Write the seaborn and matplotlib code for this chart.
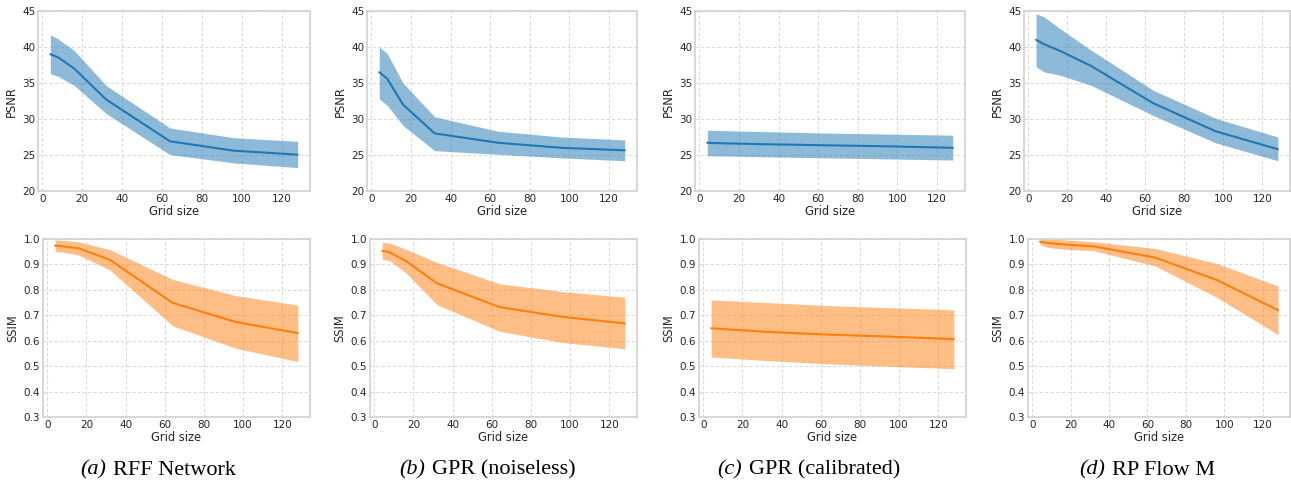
import numpy as np
import pandas as pd
import matplotlib
matplotlib.use("Agg")
import matplotlib.pyplot as plt
from matplotlib.offsetbox import TextArea, HPacker, AnnotationBbox
import seaborn as sns

# Grid sizes evaluated
grid_sizes = [4, 8, 16, 32, 64, 96, 128]

# PSNR: mean, upper and lower band per method
psnr_rff_mean = [39.0, 38.55, 37.0, 32.7, 26.9, 25.6, 25.05]
psnr_rff_hi = [41.7, 41.1, 39.5, 34.65, 28.75, 27.4, 26.9]
psnr_rff_lo = [36.3, 35.9, 34.65, 30.75, 25.05, 23.9, 23.25]

psnr_gpr_nl_mean = [36.5, 35.6, 32.0, 28.0, 26.7, 26.0, 25.65]
psnr_gpr_nl_hi = [40.0, 39.1, 35.0, 30.3, 28.3, 27.5, 27.1]
psnr_gpr_nl_lo = [32.8, 31.9, 29.1, 25.6, 25.1, 24.6, 24.2]

psnr_gpr_cal_mean = [26.7, 26.65, 26.6, 26.5, 26.35, 26.2, 26.0]
psnr_gpr_cal_hi = [28.45, 28.4, 28.35, 28.25, 28.05, 27.9, 27.75]
psnr_gpr_cal_lo = [24.9, 24.88, 24.85, 24.75, 24.6, 24.45, 24.3]

psnr_rpf_mean = [41.0, 40.4, 39.5, 37.4, 32.2, 28.3, 25.8]
psnr_rpf_hi = [44.6, 44.2, 42.6, 39.6, 34.0, 30.1, 27.5]
psnr_rpf_lo = [37.25, 36.55, 36.1, 34.7, 30.5, 26.7, 24.2]

# SSIM: mean, upper and lower band per method
ssim_rff_mean = [0.974, 0.971, 0.963, 0.918, 0.749, 0.674, 0.630]
ssim_rff_hi = [0.996, 0.994, 0.989, 0.958, 0.841, 0.778, 0.740]
ssim_rff_lo = [0.951, 0.948, 0.937, 0.878, 0.659, 0.571, 0.518]

ssim_gpr_nl_mean = [0.954, 0.947, 0.914, 0.826, 0.732, 0.694, 0.668]
ssim_gpr_nl_hi = [0.987, 0.984, 0.960, 0.908, 0.824, 0.793, 0.771]
ssim_gpr_nl_lo = [0.921, 0.914, 0.868, 0.742, 0.637, 0.593, 0.568]

ssim_gpr_cal_mean = [0.649, 0.647, 0.643, 0.635, 0.624, 0.616, 0.606]
ssim_gpr_cal_hi = [0.760, 0.759, 0.756, 0.750, 0.738, 0.730, 0.721]
ssim_gpr_cal_lo = [0.536, 0.534, 0.530, 0.522, 0.509, 0.499, 0.490]

ssim_rpf_mean = [0.989, 0.984, 0.979, 0.971, 0.927, 0.839, 0.720]
ssim_rpf_hi = [1.000, 0.999, 0.997, 0.989, 0.963, 0.904, 0.815]
ssim_rpf_lo = [0.979, 0.967, 0.960, 0.954, 0.894, 0.771, 0.624]

caption_tags = ["(a)", "(b)", "(c)", "(d)"]
caption_names = ["RFF Network", "GPR (noiseless)", "GPR (calibrated)", "RP Flow M"]

psnr_sets = [
    (psnr_rff_mean, psnr_rff_lo, psnr_rff_hi),
    (psnr_gpr_nl_mean, psnr_gpr_nl_lo, psnr_gpr_nl_hi),
    (psnr_gpr_cal_mean, psnr_gpr_cal_lo, psnr_gpr_cal_hi),
    (psnr_rpf_mean, psnr_rpf_lo, psnr_rpf_hi),
]
ssim_sets = [
    (ssim_rff_mean, ssim_rff_lo, ssim_rff_hi),
    (ssim_gpr_nl_mean, ssim_gpr_nl_lo, ssim_gpr_nl_hi),
    (ssim_gpr_cal_mean, ssim_gpr_cal_lo, ssim_gpr_cal_hi),
    (ssim_rpf_mean, ssim_rpf_lo, ssim_rpf_hi),
]

sns.set_style("whitegrid", {"grid.linestyle": "--", "grid.color": "0.86",
                            "axes.edgecolor": "0.82", "text.color": "0.15",
                            "xtick.color": "0.15", "ytick.color": "0.15"})
plt.rcParams["font.family"] = ["DejaVu Sans"]
plt.rcParams["lines.dashed_pattern"] = [3.0, 2.0]

W, H = 1291, 486
fig = plt.figure(figsize=(W / 100, H / 100), dpi=100)

top_cols = [(38, 310), (367, 637), (695, 965), (1024, 1290)]
bot_cols = [(43, 310), (370, 637), (699, 966), (1028, 1290)]
top_rows = (11, 191)
bot_rows = (239, 417)
cap_x = [158, 487, 809, 1147]

blue = "#1f77b4"
orange = "#ff7f0e"


def make_ax(cols, rows):
    l, r = cols
    t, b = rows
    return fig.add_axes([l / W, 1 - b / H, (r - l) / W, (b - t) / H])


def draw(ax, data, color, ylabel, ylim, yticks, fmt):
    mean, lo, hi = data
    df = pd.DataFrame({"Grid size": grid_sizes, ylabel: mean})
    ax.fill_between(grid_sizes, lo, hi, color=color, alpha=0.5, linewidth=0)
    sns.lineplot(data=df, x="Grid size", y=ylabel, ax=ax, color=color, linewidth=1.5)
    ax.set_ylim(*ylim)
    ax.set_yticks(yticks)
    ax.set_yticklabels([fmt.format(v) for v in yticks])
    ax.set_xticks([0, 20, 40, 60, 80, 100, 120])
    ax.tick_params(labelsize=7.5, pad=2, length=0)
    ax.set_xlabel("Grid size", fontsize=8.3, labelpad=1)
    ax.set_ylabel(ylabel, fontsize=8.3, labelpad=3)
    for s in ax.spines.values():
        s.set_linewidth(1.2)
    ax.grid(True, linewidth=0.8)


for i in range(4):
    ax1 = make_ax(top_cols[i], top_rows)
    draw(ax1, psnr_sets[i], blue, "PSNR", (20, 45), [20, 25, 30, 35, 40, 45], "{:.0f}")
    ax2 = make_ax(bot_cols[i], bot_rows)
    draw(ax2, ssim_sets[i], orange, "SSIM", (0.3, 1.0),
         [0.3, 0.4, 0.5, 0.6, 0.7, 0.8, 0.9, 1.0], "{:.1f}")

    # Subfigure caption: italic tag followed by upright name
    tag = TextArea(caption_tags[i], textprops=dict(family="Liberation Serif", style="italic",
                                                   size=16, color="black"))
    name = TextArea(caption_names[i], textprops=dict(family="Liberation Serif",
                                                     size=16, color="black"))
    box = HPacker(children=[tag, name], align="baseline", pad=0, sep=5)
    ab = AnnotationBbox(box, (cap_x[i] / W, 1 - 470 / H), xycoords="figure fraction",
                        frameon=False, box_alignment=(0.5, 0.5), pad=0)
    fig.add_artist(ab)

fig.savefig("out.png", dpi=100, facecolor="white")
